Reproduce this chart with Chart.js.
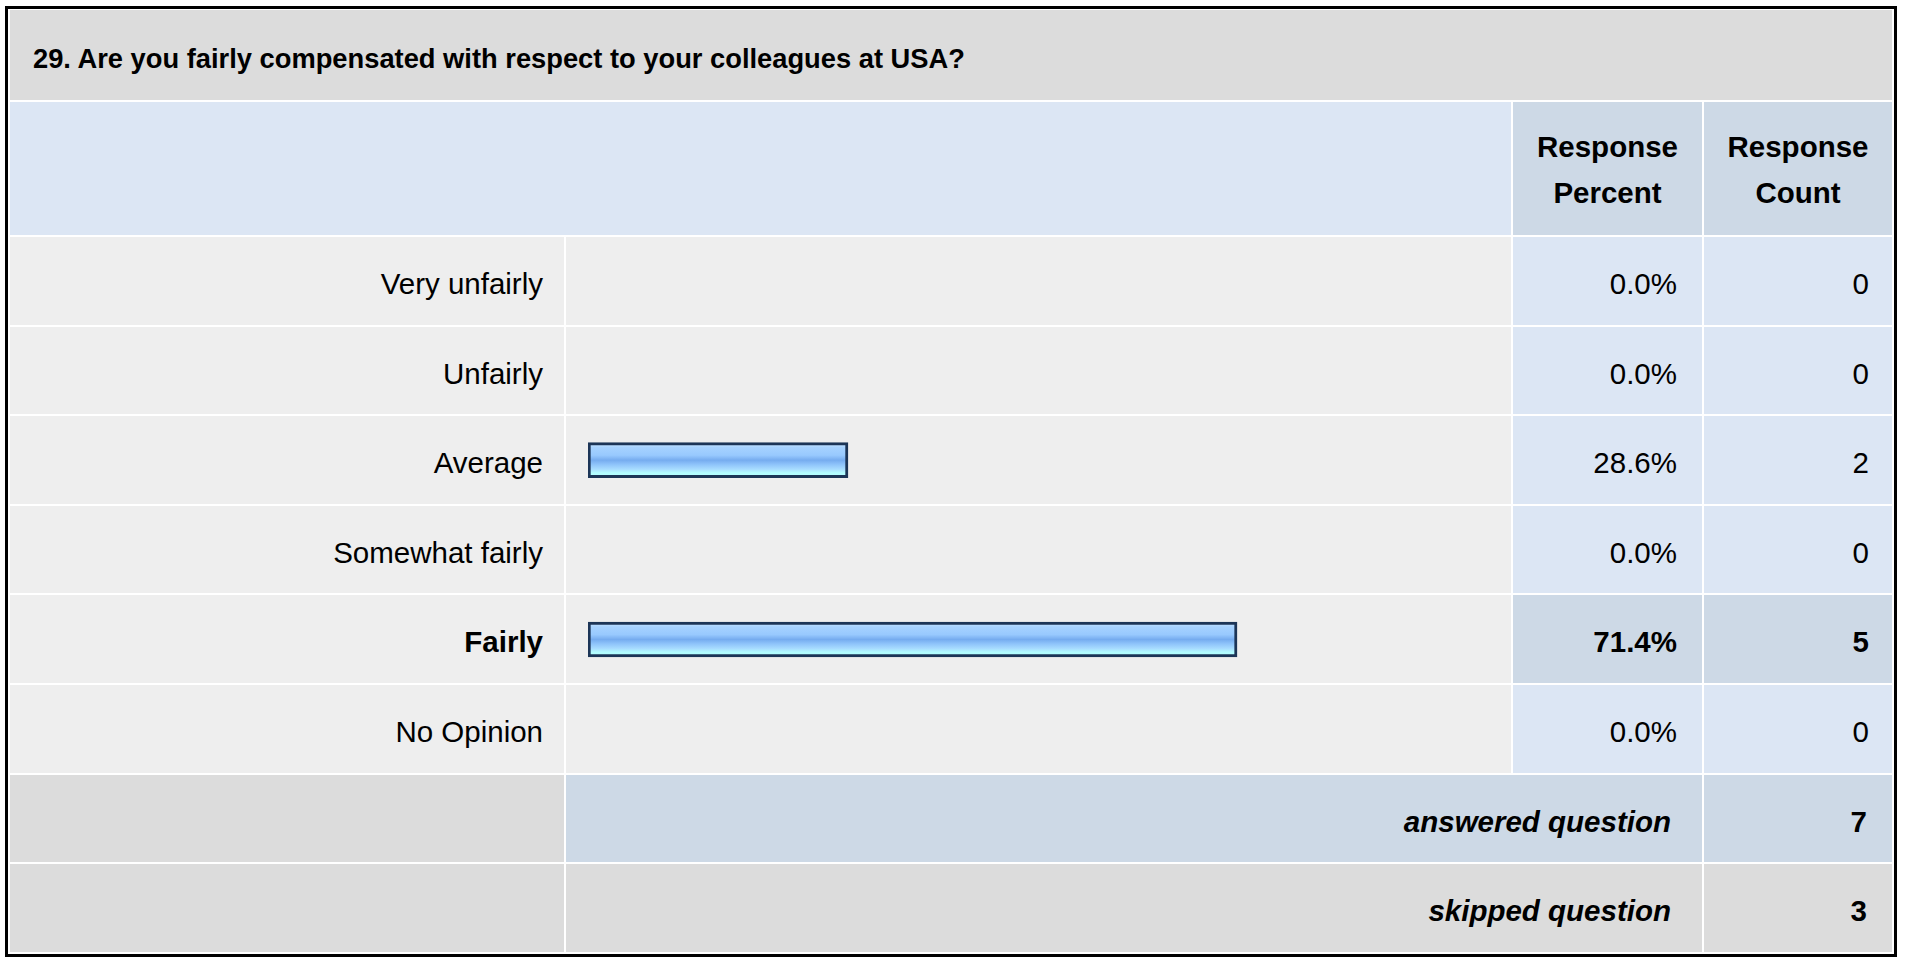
<!DOCTYPE html>
<html>
<head>
<meta charset="utf-8">
<script src="https://cdn.jsdelivr.net/npm/chart.js@4.4.1/dist/chart.umd.min.js"></script>
<style>
html,body{margin:0;padding:0;background:#fff;width:1913px;height:957px;overflow:hidden;
  font-family:"Liberation Sans",Arial,Helvetica,sans-serif;color:#000}
#frame{position:absolute;left:5px;top:6px;width:1886px;height:945px;border:3px solid #000;background:#fff}
.cell{position:absolute;box-sizing:border-box;display:flex;align-items:center;font-size:29.5px;line-height:34px;white-space:nowrap}
.right{justify-content:flex-end}
.bold{font-weight:bold}
.bi{font-weight:bold;font-style:italic}
#cv{position:absolute;left:566px;top:236px;width:945px;height:538px}
</style>
</head>
<body>
<div id="frame"></div>
<div id="table"></div>
<canvas id="cv" width="945" height="538"></canvas>
<script>
// ---- data ----
const titleText = "29. Are you fairly compensated with respect to your colleagues at USA?";
const headerPercent = ["Response", "Percent"];
const headerCount = ["Response", "Count"];
const categories = ["Very unfairly", "Unfairly", "Average", "Somewhat fairly", "Fairly", "No Opinion"];
const responsePercent = [0.0, 0.0, 28.6, 0.0, 71.4, 0.0];
const responseCount = [0, 0, 2, 0, 5, 0];
const answeredLabel = "answered question";
const answeredCount = 7;
const skippedLabel = "skipped question";
const skippedCount = 3;

// ---- layout ----
const X = [[10,564],[566,1511],[1513,1702],[1704,1892]];
const B = [236];
for (let i = 1; i <= 8; i++) B.push(236 + i * 89.6);
const table = document.getElementById('table');
function cell(x0, x1, y0, y1, bg, cls, html, style) {
  const d = document.createElement('div');
  d.className = 'cell ' + (cls || '');
  d.style.left = Math.round(x0) + 'px';
  d.style.top = Math.round(y0) + 'px';
  d.style.width = (Math.round(x1) - Math.round(x0)) + 'px';
  d.style.height = (Math.round(y1) - Math.round(y0)) + 'px';
  d.style.background = bg;
  if (style) d.setAttribute('style', d.getAttribute('style') + ';' + style);
  if (html !== undefined) d.innerHTML = html;
  table.appendChild(d);
  return d;
}
const GRAY = '#DCDCDC', LIGHT = '#EEEEEE', BLUE = '#DCE6F4', BLUE2 = '#CDD9E6';
// title
cell(10, 1892, 10, 100, GRAY, 'bold', titleText, 'font-size:27.3px;padding-left:23px;padding-top:7px');
// header
cell(10, 1511, 102, 235, BLUE, '', '');
const hstyle = 'justify-content:center;text-align:center;line-height:46px;padding-top:2px';
cell(X[2][0], X[2][1], 102, 235, BLUE2, 'bold', '<span>' + headerPercent.join('<br>') + '</span>', hstyle);
cell(X[3][0], X[3][1], 102, 235, BLUE2, 'bold', '<span>' + headerCount.join('<br>') + '</span>', hstyle);
// data rows
const maxIdx = responseCount.indexOf(Math.max(...responseCount));
categories.forEach((c, i) => {
  const y0 = B[i] + 1, y1 = B[i + 1] - 1;
  const hi = i === maxIdx;
  const tcls = 'right' + (hi ? ' bold' : '');
  cell(X[0][0], X[0][1], y0, y1, LIGHT, tcls, c, 'padding-right:21px;padding-top:6px');
  cell(X[1][0], X[1][1], y0, y1, LIGHT, '', '');
  cell(X[2][0], X[2][1], y0, y1, hi ? BLUE2 : BLUE, tcls, responsePercent[i].toFixed(1) + '%', 'padding-right:25px;padding-top:6px');
  cell(X[3][0], X[3][1], y0, y1, hi ? BLUE2 : BLUE, tcls, String(responseCount[i]), 'padding-right:23px;padding-top:6px');
});
// answered
cell(X[0][0], X[0][1], B[6] + 1, B[7] - 1, GRAY, '', '');
cell(X[1][0], X[2][1], B[6] + 1, B[7] - 1, BLUE2, 'right bi', answeredLabel, 'padding-right:31px;padding-top:6px');
cell(X[3][0], X[3][1], B[6] + 1, B[7] - 1, BLUE2, 'right bold', String(answeredCount), 'padding-right:25px;padding-top:6px');
// skipped
cell(X[0][0], X[0][1], B[7] + 1, B[8] - 1, GRAY, '', '');
cell(X[1][0], X[2][1], B[7] + 1, B[8] - 1, GRAY, 'right bi', skippedLabel, 'padding-right:31px;padding-top:6px');
cell(X[3][0], X[3][1], B[7] + 1, B[8] - 1, GRAY, 'right bold', String(skippedCount), 'padding-right:25px;padding-top:6px');

// ---- chart ----
const BAR_H = 35;
function makeGradient(cctx, c) {
  const g = cctx.createLinearGradient(0, c - BAR_H / 2, 0, c + BAR_H / 2);
  g.addColorStop(0.00, '#D2EAFF');
  g.addColorStop(0.14, '#A6D2FF');
  g.addColorStop(0.36, '#98C9FE');
  g.addColorStop(0.50, '#76ACEF');
  g.addColorStop(0.62, '#8EC3FA');
  g.addColorStop(0.76, '#A8DCFF');
  g.addColorStop(0.86, '#B2FCFF');
  g.addColorStop(1.00, '#B2FFFF');
  return g;
}
function barColor(ctx) {
  const chart = ctx.chart;
  const ys = chart.scales && chart.scales.y;
  if (ys && ctx.dataIndex !== undefined) {
    const c = ys.getPixelForValue(ctx.dataIndex);
    if (isFinite(c)) return makeGradient(chart.ctx, c);
  }
  return '#9CCBFF';
}
const gradientPlugin = {
  id: 'barGradient',
  beforeDatasetsDraw(chart) {
    chart.getDatasetMeta(0).data.forEach(el => {
      if (el && isFinite(el.y) && el.options && !Object.isFrozen(el.options)) {
        el.options.backgroundColor = makeGradient(chart.ctx, el.y);
      }
    });
  }
};
new Chart(document.getElementById('cv'), {
  type: 'bar',
  data: {
    labels: categories,
    datasets: [{
      data: responsePercent,
      backgroundColor: barColor,
      borderColor: '#1C3557',
      borderWidth: 3,
      borderSkipped: false,
      barThickness: BAR_H
    }]
  },
  options: {
    indexAxis: 'y',
    responsive: false,
    animation: false,
    events: [],
    layout: { padding: { left: 22, right: 14, top: 0, bottom: 0 } },
    scales: {
      x: { display: false, min: 0, max: 100 },
      y: { display: false }
    },
    plugins: { legend: { display: false }, tooltip: { enabled: false } }
  },
  plugins: [gradientPlugin]
});
</script>
</body>
</html>
